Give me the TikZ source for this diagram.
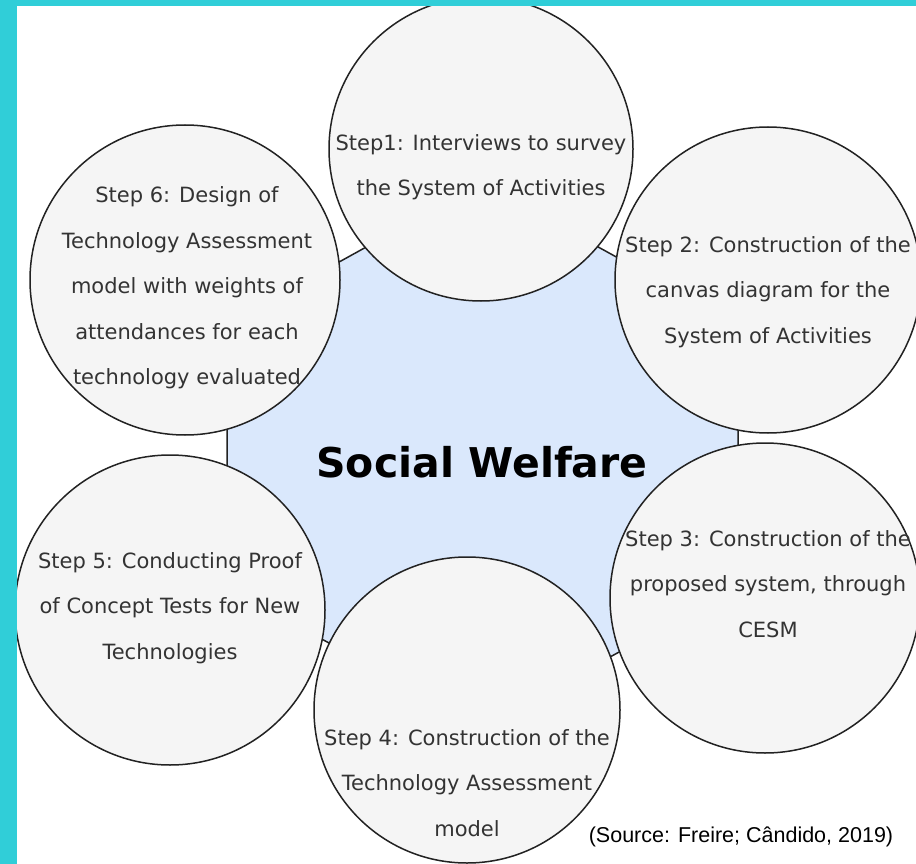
\documentclass[tikz,border=0pt]{standalone}
\usepackage{fontspec}
\setmainfont{DejaVu Sans}
\newfontfamily\srcfont{Liberation Sans}
\definecolor{bandcyan}{RGB}{48,206,216}
\definecolor{hexblue}{RGB}{218,232,252}
\definecolor{circfill}{RGB}{245,245,245}
\definecolor{txtgray}{RGB}{51,51,51}
\definecolor{edgegray}{RGB}{34,34,34}
\tikzset{
  hexshape/.style={fill=hexblue, draw=edgegray, line width=1.5pt, line join=miter},
  stepcirc/.style={circle, fill=circfill, draw=edgegray, line width=1.5pt, inner sep=0pt, minimum size=#1},
  steptext/.style={align=center, text=txtgray, inner sep=0pt, font=\fontsize{21}{45.5}\selectfont},
  centertext/.style={text=black, inner sep=0pt, font=\fontsize{41}{48}\selectfont\bfseries},
  srctext/.style={text=black, inner sep=0pt, font=\srcfont\fontsize{21.5}{26}\selectfont}
}
\begin{document}
\begin{tikzpicture}[x=1pt,y=-1pt]
\useasboundingbox (0,0) rectangle (916,864);
\fill[white] (0,0) rectangle (916,864);
% central hexagon
\coordinate (ht) at (482,183);
\coordinate (hur) at (738,324);
\coordinate (hlr) at (738,587);
\coordinate (hb) at (482,727);
\coordinate (hll) at (227,587);
\coordinate (hul) at (227,324);
\draw[hexshape] (ht) -- (hur) -- (hlr) -- (hb) -- (hll) -- (hul) -- cycle;
% step circles
\node[stepcirc=304pt] (s1) at (481,149) {};
\node[stepcirc=306pt] (s2) at (768,280) {};
\node[stepcirc=310pt] (s3) at (765,598) {};
\node[stepcirc=306pt] (s4) at (467,710) {};
\node[stepcirc=310pt] (s5) at (170,610) {};
\node[stepcirc=310pt] (s6) at (185,280) {};
% texts
\node[steptext] (t1) at (481,167) {Step1: Interviews to survey\\the System of Activities};
\node[steptext] (t2) at (768,292) {Step 2: Construction of the\\canvas diagram for the\\System of Activities};
\node[steptext] (t3) at (768,584) {Step 3: Construction of the\\proposed system, through\\CESM};
\node[steptext] (t4) at (467,783) {Step 4: Construction of the\\Technology Assessment\\model};
\node[steptext] (t5) at (170,608) {Step 5: Conducting Proof\\of Concept Tests for New\\Technologies};
\node[steptext] (t6) at (187,288) {Step 6: Design of\\Technology Assessment\\model with weights of\\attendances for each\\technology evaluated};
\node[centertext] (sw) at (482,462) {Social Welfare};
\node[srctext] (src) at (741,837) {(Source: Freire; Cândido, 2019)};
% cyan frame
\fill[bandcyan] (0,0) rectangle (17,864);
\fill[bandcyan] (0,0) rectangle (916,6.5);
\end{tikzpicture}
\end{document}
